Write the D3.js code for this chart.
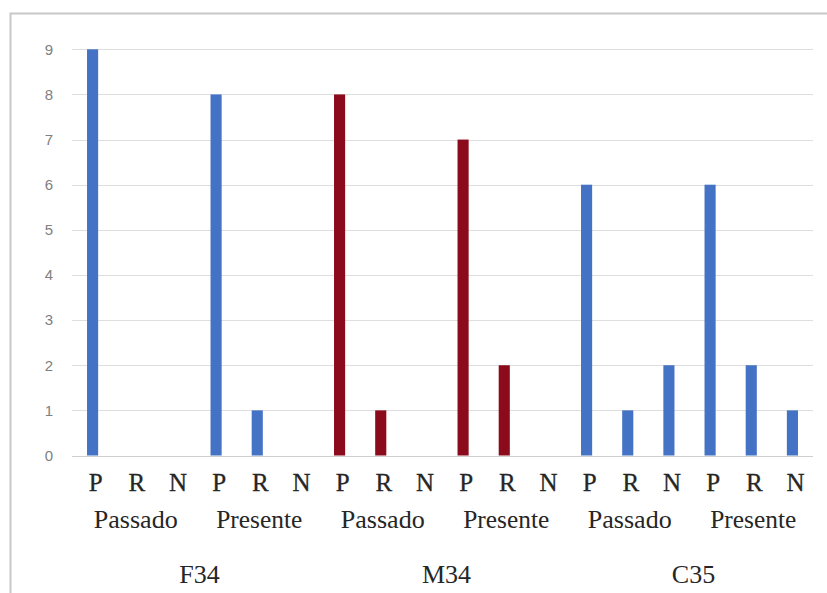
<!DOCTYPE html>
<html>
<head>
<meta charset="utf-8">
<script src="https://cdn.jsdelivr.net/npm/d3@7/dist/d3.min.js"></script>
<style>
  html, body { margin: 0; padding: 0; background: #ffffff; }
  svg { display: block; }
</style>
</head>
<body>
<svg id="chart" width="827" height="593"></svg>
<script>
// ---- data ----
const groups = ["F34", "M34", "C35"];
const times = ["Passado", "Presente"];
const answers = ["P", "R", "N"];
const valuesF34 = [9, 0, 0, 8, 1, 0];
const valuesM34 = [8, 1, 0, 7, 2, 0];
const valuesC35 = [6, 1, 2, 6, 2, 1];
const groupColors = ["#4472c4", "#8b0a1c", "#4472c4"];
const yTicks = [0, 1, 2, 3, 4, 5, 6, 7, 8, 9];

const seriesByGroup = [valuesF34, valuesM34, valuesC35];
const rows = [];
groups.forEach((g, gi) => {
  times.forEach((t, ti) => {
    answers.forEach((a, ai) => {
      rows.push({ key: g + "|" + t + "|" + a, group: g, gi, time: t, answer: a,
                  value: seriesByGroup[gi][ti * 3 + ai] });
    });
  });
});

const SERIF = "'Liberation Serif', Tinos, FreeSerif";
const SANS = "'Liberation Sans', Arial";

const svg = d3.select("#chart");
const plotLeft = 72, plotRight = 813, plotBottom = 455.5, plotTop = 49.3;

// frame
svg.append("rect").attr("x", 10.5).attr("y", 13.5).attr("width", 840).attr("height", 600)
  .attr("fill", "#ffffff").attr("stroke", "#c8c8c8").attr("stroke-width", 2);

const x = d3.scaleBand().domain(rows.map(d => d.key))
  .range([plotLeft, plotRight]).paddingInner(0.73).paddingOuter(0.365);
const y = d3.scaleLinear().domain([0, 9]).range([plotBottom, plotTop]);

// gridlines
svg.append("g").selectAll("line").data(yTicks).join("line")
  .attr("x1", plotLeft).attr("x2", plotRight)
  .attr("y1", d => Math.round(y(d)) + 0.5).attr("y2", d => Math.round(y(d)) + 0.5)
  .attr("stroke", d => d === 0 ? "#cfcfcf" : "#dedede").attr("stroke-width", 1);

// y axis
const yAxis = svg.append("g").attr("transform", "translate(55,0)")
  .call(d3.axisLeft(y).tickValues(yTicks).tickSize(0).tickPadding(2));
yAxis.select(".domain").remove();
yAxis.attr("font-family", SANS).attr("font-size", 15);
yAxis.selectAll("text").style("font-family", SANS).attr("fill", "#808080");

// bars
svg.append("g").selectAll("rect").data(rows).join("rect")
  .attr("x", d => x(d.key)).attr("width", x.bandwidth())
  .attr("y", d => y(d.value)).attr("height", d => y(0) - y(d.value))
  .attr("fill", d => groupColors[d.gi]);

const center = k => x(k) + x.bandwidth() / 2;

const labels = svg.append("g").attr("font-family", SERIF).style("font-family", SERIF);

// answer labels
labels.append("g").selectAll("text").data(rows).join("text")
  .attr("x", d => center(d.key) + 3).attr("y", 491)
  .attr("text-anchor", "middle")
  .attr("font-size", 25).style("font-family", SERIF)
  .attr("fill", "#262626").attr("stroke", "#262626").attr("stroke-width", 0.3)
  .text(d => d.answer);

// time labels
const timeRows = [];
groups.forEach(g => times.forEach(t => timeRows.push({ g, t })));
labels.append("g").selectAll("text").data(timeRows).join("text")
  .attr("x", d => center(d.g + "|" + d.t + "|R") + 2).attr("y", 528)
  .attr("text-anchor", "middle")
  .attr("font-size", 26).style("font-family", SERIF)
  .attr("fill", "#262626")
  .attr("textLength", d => d.t === "Passado" ? 84 : 86).attr("lengthAdjust", "spacingAndGlyphs")
  .text(d => d.t);

// group labels
labels.append("g").selectAll("text").data(groups).join("text")
  .attr("x", g => (center(g + "|Passado|P") + center(g + "|Presente|N")) / 2 + 4).attr("y", 583)
  .attr("text-anchor", "middle")
  .attr("font-size", 26).style("font-family", SERIF)
  .attr("fill", "#262626")
  .text(g => g);
</script>
</body>
</html>
